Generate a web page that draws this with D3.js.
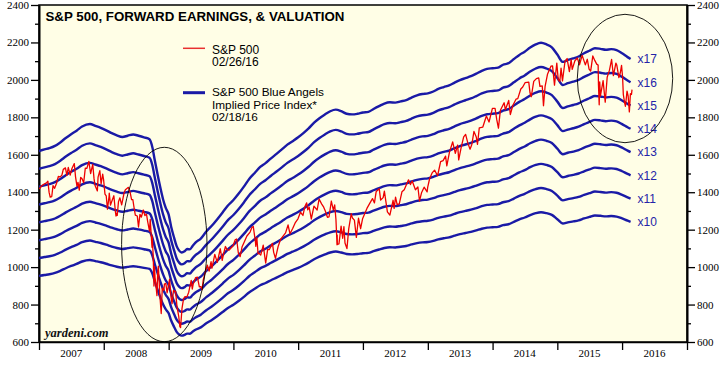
<!DOCTYPE html>
<html><head><meta charset="utf-8">
<script src="https://cdn.jsdelivr.net/npm/d3@7"></script>
<style>body{margin:0;background:#fff}svg{display:block}</style>
</head><body>
<svg id="c" width="728" height="372"></svg>
<script>
// ---------- data ----------
const years = [2007,2008,2009,2010,2011,2012,2013,2014,2015,2016];
const yTicks = [600,800,1000,1200,1400,1600,1800,2000,2200,2400];
const yMinorTicks = [700,900,1100,1300,1500,1700,1900,2100,2300];
const multiples = [10,11,12,13,14,15,16,17];
const titleText = "S&P 500, FORWARD EARNINGS, & VALUATION";
const legendRed = ["S&P 500","02/26/16"];
const legendBlue = ["S&P 500 Blue Angels","Implied Price Index*","02/18/16"];

// forward earnings
const fwdEarnings = [
["2007-01-01",95.3],["2007-02-01",95.8],["2007-03-01",96.2],["2007-04-01",96.9],["2007-05-01",98.0],
["2007-06-01",99.4],["2007-07-01",100.6],["2007-08-01",101.7],["2007-09-01",103.0],["2007-10-15",103.8],
["2007-11-15",103.2],["2007-12-15",102.6],["2008-01-15",101.8],["2008-02-15",100.9],["2008-03-15",100.2],
["2008-04-15",99.7],["2008-05-15",100.1],["2008-06-15",100.5],["2008-07-15",100.1],["2008-08-15",99.6],
["2008-09-15",99.0],["2008-10-01",96.5],["2008-10-15",92.3],["2008-11-01",87.5],["2008-11-15",83.8],
["2008-12-01",80.0],["2008-12-15",77.5],["2009-01-01",75.3],["2009-01-15",71.5],["2009-02-01",68.0],
["2009-02-15",65.4],["2009-03-01",64.0],["2009-03-15",63.4],["2009-04-01",63.8],["2009-04-15",64.5],
["2009-05-01",64.4],["2009-05-15",65.4],["2009-06-01",66.5],["2009-07-01",67.8],["2009-08-01",70.0],
["2009-09-01",71.8],["2009-10-01",73.8],["2009-11-01",76.0],["2009-12-01",78.2],["2010-01-01",79.9],
["2010-02-01",82.0],["2010-03-01",84.1],["2010-04-01",86.6],["2010-05-01",88.4],["2010-06-01",90.3],
["2010-07-01",91.5],["2010-08-01",93.0],["2010-09-01",94.4],["2010-10-01",95.8],["2010-11-01",97.3],
["2010-12-01",98.4],["2011-01-01",99.6],["2011-02-01",101.0],["2011-03-01",102.4],["2011-04-01",104.2],
["2011-05-01",105.6],["2011-06-01",106.8],["2011-07-01",107.8],["2011-08-01",108.3],["2011-09-01",107.8],
["2011-10-01",107.0],["2011-11-01",106.8],["2011-12-01",107.0],["2012-01-01",107.4],["2012-02-01",107.6],
["2012-03-01",108.5],["2012-04-01",109.4],["2012-05-01",110.2],["2012-06-01",110.6],["2012-07-01",110.5],
["2012-08-01",110.9],["2012-09-01",111.3],["2012-10-01",112.1],["2012-11-01",112.8],["2012-12-01",113.2],
["2013-01-01",113.4],["2013-02-01",114.0],["2013-03-01",114.8],["2013-04-01",115.4],["2013-05-01",115.9],
["2013-06-01",116.8],["2013-07-01",117.6],["2013-08-01",118.2],["2013-09-01",118.8],["2013-10-01",119.6],
["2013-11-01",120.5],["2013-12-01",121.1],["2014-01-01",121.3],["2014-02-01",121.5],["2014-03-01",122.4],
["2014-04-01",122.9],["2014-05-01",124.2],["2014-06-01",125.5],["2014-07-01",126.5],["2014-08-01",127.8],
["2014-09-01",128.8],["2014-10-01",129.3],["2014-11-01",128.8],["2014-12-01",127.9],["2015-01-01",125.6],
["2015-02-01",123.3],["2015-03-01",123.9],["2015-04-01",124.4],["2015-05-01",125.0],["2015-06-01",126.0],
["2015-07-01",126.8],["2015-08-01",127.6],["2015-09-01",127.4],["2015-10-01",127.1],["2015-11-01",127.3],
["2015-12-01",127.0],["2016-01-01",126.0],["2016-02-01",124.8],["2016-02-18",124.2]
];

// S&P 500 index
const sp500 = [
["2007-01-03",1416],["2007-01-12",1430],["2007-01-24",1440],["2007-02-01",1445],["2007-02-12",1450],["2007-02-20",1459],["2007-02-27",1399],["2007-03-05",1374],["2007-03-14",1377],["2007-03-21",1435],["2007-03-30",1421],["2007-04-10",1448],["2007-04-20",1484],["2007-04-30",1482],["2007-05-10",1491],["2007-05-18",1522],["2007-05-30",1530],["2007-06-07",1490],["2007-06-15",1532],["2007-06-26",1492],["2007-07-05",1525],["2007-07-19",1553],["2007-07-26",1482],["2007-08-03",1433],["2007-08-09",1453],["2007-08-16",1411],["2007-08-24",1479],["2007-08-31",1473],["2007-09-10",1451],["2007-09-19",1529],["2007-09-28",1527],["2007-10-09",1565],["2007-10-19",1500],["2007-10-31",1549],["2007-11-07",1475],["2007-11-12",1439],["2007-11-26",1407],["2007-11-30",1481],["2007-12-10",1515],["2007-12-17",1445],["2007-12-26",1497],["2007-12-31",1468],
["2008-01-08",1390],["2008-01-15",1380],["2008-01-22",1310],["2008-01-31",1378],["2008-02-01",1395],["2008-02-08",1331],["2008-02-14",1348],["2008-02-27",1381],["2008-03-07",1294],["2008-03-10",1273],["2008-03-14",1288],["2008-03-17",1276],["2008-03-24",1349],["2008-04-01",1370],["2008-04-11",1332],["2008-04-25",1398],["2008-05-02",1413],["2008-05-19",1426],["2008-05-29",1398],["2008-06-06",1360],["2008-06-13",1360],["2008-06-20",1317],["2008-06-27",1278],["2008-07-08",1273],["2008-07-15",1214],["2008-07-23",1282],["2008-07-31",1267],["2008-08-11",1305],["2008-08-20",1275],["2008-08-29",1283],["2008-09-05",1242],["2008-09-15",1192],["2008-09-19",1255],["2008-09-29",1106],["2008-09-30",1166],["2008-10-06",1056],["2008-10-10",899],["2008-10-13",1003],["2008-10-16",946],["2008-10-22",896],["2008-10-27",848],["2008-10-31",968],["2008-11-04",1005],["2008-11-12",852],["2008-11-20",752],["2008-11-26",887],["2008-12-05",876],["2008-12-08",909],["2008-12-16",913],["2008-12-23",863],["2008-12-31",903],
["2009-01-06",935],["2009-01-14",842],["2009-01-20",805],["2009-01-28",874],["2009-02-09",870],["2009-02-17",789],["2009-02-27",735],["2009-03-05",682],["2009-03-09",677],["2009-03-17",778],["2009-03-26",832],["2009-04-03",842],["2009-04-14",841],["2009-04-24",866],["2009-05-08",929],["2009-05-14",883],["2009-05-19",908],["2009-06-02",944],["2009-06-12",946],["2009-06-23",895],["2009-07-02",896],["2009-07-08",879],["2009-07-15",932],["2009-07-28",979],["2009-08-07",1010],["2009-08-17",979],["2009-08-28",1029],["2009-09-02",994],["2009-09-18",1068],["2009-10-02",1025],["2009-10-19",1098],["2009-10-30",1036],["2009-11-06",1069],["2009-11-17",1110],["2009-11-27",1092],["2009-12-08",1091],["2009-12-18",1102],["2009-12-31",1115],
["2010-01-11",1146],["2010-01-19",1150],["2010-01-29",1074],["2010-02-08",1056],["2010-02-19",1109],["2010-03-05",1138],["2010-03-18",1166],["2010-04-05",1187],["2010-04-15",1211],["2010-04-23",1217],["2010-05-06",1128],["2010-05-07",1111],["2010-05-13",1157],["2010-05-20",1071],["2010-05-25",1074],["2010-06-04",1064],["2010-06-18",1117],["2010-06-29",1041],["2010-07-02",1022],["2010-07-13",1095],["2010-07-22",1093],["2010-08-09",1127],["2010-08-16",1079],["2010-08-26",1047],["2010-09-10",1110],["2010-09-24",1148],["2010-10-08",1166],["2010-10-22",1183],["2010-11-05",1225],["2010-11-16",1178],["2010-12-01",1206],["2010-12-15",1236],["2010-12-31",1258],
["2011-01-14",1293],["2011-01-28",1276],["2011-02-08",1324],["2011-02-18",1343],["2011-02-24",1306],["2011-03-04",1321],["2011-03-16",1257],["2011-03-31",1326],["2011-04-18",1305],["2011-04-29",1364],["2011-05-13",1338],["2011-05-25",1320],["2011-06-03",1300],["2011-06-15",1266],["2011-06-24",1268],["2011-07-07",1353],["2011-07-18",1306],["2011-07-26",1332],["2011-08-02",1254],["2011-08-08",1119],["2011-08-09",1172],["2011-08-10",1121],["2011-08-19",1124],["2011-08-31",1219],["2011-09-09",1154],["2011-09-16",1216],["2011-09-22",1129],["2011-10-03",1099],["2011-10-13",1204],["2011-10-27",1285],["2011-11-03",1262],["2011-11-14",1251],["2011-11-25",1159],["2011-12-07",1261],["2011-12-19",1205],["2011-12-30",1258],
["2012-01-13",1289],["2012-01-26",1318],["2012-02-10",1343],["2012-02-24",1366],["2012-03-06",1343],["2012-03-16",1404],["2012-04-02",1419],["2012-04-10",1358],["2012-04-24",1371],["2012-05-01",1406],["2012-05-18",1295],["2012-06-01",1278],["2012-06-19",1357],["2012-06-25",1314],["2012-07-03",1374],["2012-07-12",1334],["2012-07-24",1338],["2012-08-08",1402],["2012-08-21",1413],["2012-09-14",1466],["2012-09-25",1441],["2012-10-05",1460],["2012-10-23",1413],["2012-11-06",1428],["2012-11-15",1353],["2012-11-27",1399],["2012-12-11",1427],["2012-12-28",1402],["2012-12-31",1426],
["2013-01-11",1472],["2013-01-25",1503],["2013-02-08",1518],["2013-02-25",1488],["2013-03-14",1563],["2013-03-28",1569],["2013-04-11",1593],["2013-04-18",1541],["2013-05-03",1614],["2013-05-21",1669],["2013-06-05",1608],["2013-06-18",1652],["2013-06-24",1573],["2013-07-08",1640],["2013-07-22",1696],["2013-08-02",1709],["2013-08-15",1661],["2013-08-27",1630],["2013-09-06",1655],["2013-09-18",1725],["2013-10-01",1695],["2013-10-08",1656],["2013-10-18",1744],["2013-11-07",1748],["2013-11-27",1807],["2013-12-12",1775],["2013-12-31",1848],
["2014-01-15",1848],["2014-01-24",1790],["2014-02-03",1742],["2014-02-14",1838],["2014-03-07",1878],["2014-03-14",1841],["2014-04-02",1890],["2014-04-11",1815],["2014-04-25",1863],["2014-05-13",1897],["2014-05-23",1900],["2014-06-09",1951],["2014-06-20",1962],["2014-07-03",1985],["2014-07-24",1988],["2014-07-31",1931],["2014-08-07",1910],["2014-08-21",1992],["2014-09-05",2007],["2014-09-18",2011],["2014-09-25",1965],["2014-10-08",1968],["2014-10-15",1862],["2014-10-24",1965],["2014-11-07",2032],["2014-11-26",2073],["2014-12-05",2075],["2014-12-16",1972],["2014-12-29",2090],
["2015-01-06",2002],["2015-01-15",1992],["2015-01-22",2063],["2015-01-30",1995],["2015-02-13",2097],["2015-02-25",2114],["2015-03-10",2044],["2015-03-20",2108],["2015-03-26",2056],["2015-04-10",2102],["2015-04-24",2117],["2015-05-06",2080],["2015-05-21",2131],["2015-06-08",2080],["2015-06-19",2110],["2015-06-29",2058],["2015-07-08",2047],["2015-07-20",2128],["2015-07-31",2104],["2015-08-11",2084],["2015-08-19",2079],["2015-08-21",1971],["2015-08-25",1867],["2015-08-28",1989],["2015-09-01",1914],["2015-09-16",1996],["2015-09-28",1881],["2015-10-09",2014],["2015-10-22",2052],["2015-11-03",2109],["2015-11-13",2023],["2015-11-27",2090],["2015-12-02",2080],["2015-12-14",2012],["2015-12-22",2038],["2015-12-29",2078],
["2016-01-04",2013],["2016-01-08",1922],["2016-01-15",1880],["2016-01-20",1859],["2016-01-29",1940],["2016-02-04",1915],["2016-02-11",1829],["2016-02-17",1926],["2016-02-23",1922],["2016-02-26",1948]
];

// ---------- drawing ----------
const parse = d3.timeParse("%Y-%m-%d");
const svg = d3.select("#c");
const L = 39, R = 687, T = 5, B = 342;
const x = d3.scaleTime().domain([new Date(2007,0,1), new Date(2017,0,1)]).range([L, R]);
const y = d3.scaleLinear().domain([600, 2400]).range([B, T]);

svg.append("rect").attr("x",L).attr("y",T).attr("width",R-L).attr("height",B-T)
  .attr("fill","#fffee6").attr("stroke","#000").attr("stroke-width",1.5);

const serif = "'Liberation Serif','Times New Roman',serif";
const sans = "'Liberation Sans',Arial,Helvetica,sans-serif";

function styleAxis(g){
  g.selectAll("path.domain").attr("stroke","#000").attr("stroke-width",1.6);
  g.selectAll(".tick line").attr("stroke","#000").attr("stroke-width",1.3);
  g.selectAll("text").attr("font-family",serif).attr("font-size",11).attr("fill","#000");
}
// left
svg.append("g").attr("transform",`translate(${L},0)`)
  .call(d3.axisLeft(y).tickValues(yTicks).tickSize(8).tickSizeOuter(0).tickPadding(2).tickFormat(d3.format("d")))
  .call(styleAxis);
svg.append("g").attr("transform",`translate(${L},0)`)
  .call(d3.axisLeft(y).tickValues(yMinorTicks).tickSize(4).tickSizeOuter(0).tickFormat(""))
  .call(styleAxis);
// right
svg.append("g").attr("transform",`translate(${R},0)`)
  .call(d3.axisRight(y).tickValues(yTicks).tickSize(8).tickSizeOuter(0).tickPadding(2).tickFormat(d3.format("d")))
  .call(styleAxis);
svg.append("g").attr("transform",`translate(${R},0)`)
  .call(d3.axisRight(y).tickValues(yMinorTicks).tickSize(4).tickSizeOuter(0).tickFormat(""))
  .call(styleAxis);
// bottom
const yearBounds = years.map(v => new Date(v,0,1)).concat([new Date(years[years.length-1]+1,0,1)]);
svg.append("g").attr("transform",`translate(0,${B})`)
  .call(d3.axisBottom(x).tickValues(yearBounds).tickSize(8).tickSizeOuter(0).tickFormat(""))
  .call(styleAxis);
svg.append("g").selectAll("text").data(years).join("text")
  .attr("x", d => x(new Date(d,6,2))).attr("y", 356.5)
  .attr("text-anchor","middle").attr("font-family",serif).attr("font-size",11).text(d => d);

// blue multiple lines
const E = fwdEarnings.map(d => ({date: parse(d[0]), e: d[1]}));
svg.append("defs").append("clipPath").attr("id","pc")
  .append("rect").attr("x",L).attr("y",T).attr("width",R-L).attr("height",B-T);
const plot = svg.append("g").attr("clip-path","url(#pc)");
const blueLine = m => d3.line().x(d => x(d.date)).y(d => y(d.e*m)).curve(d3.curveMonotoneX)(E);
plot.selectAll("path.blue").data(multiples).join("path").attr("class","blue")
  .attr("d", blueLine).attr("fill","none").attr("stroke","#1a1aa6").attr("stroke-width",2.4)
  .attr("stroke-linejoin","round");

// red S&P line
const S = sp500.map(d => ({date: parse(d[0]), v: d[1]}));
plot.append("path").attr("d", d3.line().x(d => x(d.date)).y(d => y(d.v))(S))
  .attr("fill","none").attr("stroke","#ee0000").attr("stroke-width",1.3).attr("stroke-linejoin","round");

// multiple labels
const last = E[E.length-1];
svg.append("g").selectAll("text").data(multiples).join("text")
  .attr("x", x(last.date)+7).attr("y", m => y(last.e*m)).attr("dy","0.36em")
  .attr("font-family",sans).attr("font-size",12).attr("fill","#2424a8").text(m => "x"+m);

// ellipses
svg.append("ellipse").attr("cx",164.3).attr("cy",244.5).attr("rx",42.7).attr("ry",97.2)
  .attr("fill","none").attr("stroke","#000").attr("stroke-width",0.9);
svg.append("ellipse").attr("cx",625).attr("cy",78.5).attr("rx",47.7).attr("ry",64.2)
  .attr("fill","none").attr("stroke","#000").attr("stroke-width",0.9);

// title
svg.append("text").attr("x",45.5).attr("y",20.5).attr("font-family",sans).attr("font-weight","bold")
  .attr("font-size",13.3).attr("fill","#000").text(titleText);

// legend
svg.append("line").attr("x1",183).attr("x2",205).attr("y1",48.3).attr("y2",48.3)
  .attr("stroke","#e83030").attr("stroke-width",1.5);
svg.append("g").selectAll("text").data(legendRed).join("text")
  .attr("x",212).attr("y",(d,i) => 53.5 + i*12.7).attr("font-family",sans).attr("font-size",12).text(d => d);
svg.append("line").attr("x1",183).attr("x2",205).attr("y1",92.7).attr("y2",92.7)
  .attr("stroke","#1a1aa6").attr("stroke-width",3);
svg.append("g").selectAll("text").data(legendBlue).join("text")
  .attr("x",212).attr("y",(d,i) => 96.2 + i*12.5).attr("font-family",sans).attr("font-size",11.8).text(d => d);

// watermark
svg.append("text").attr("x",45).attr("y",336.5).attr("font-family",serif).attr("font-style","italic")
  .attr("font-weight","bold").attr("font-size",12.5).attr("fill","#111").text("yardeni.com");
</script>
</body></html>
